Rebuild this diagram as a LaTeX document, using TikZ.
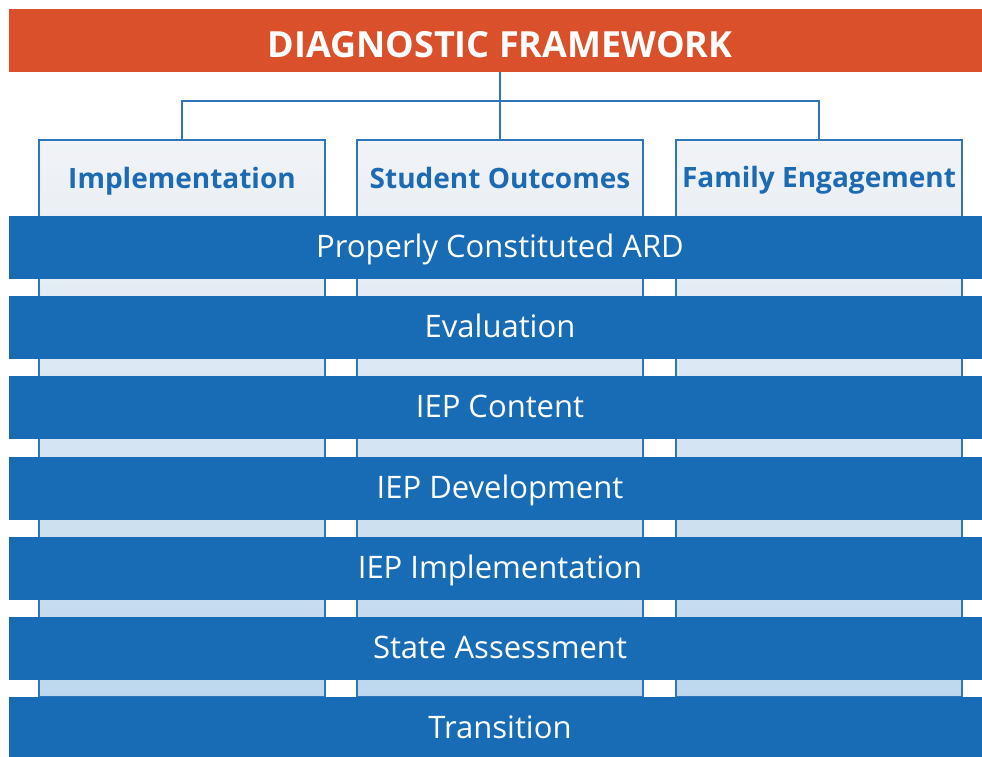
\documentclass[tikz,border=0pt]{standalone}
\usepackage{fontspec}
\setmainfont{Open Sans}
\usetikzlibrary{positioning}

\definecolor{titleorange}{HTML}{D9502A}
\definecolor{barblue}{HTML}{176CB5}
\definecolor{lineblue}{HTML}{2F75BA}
\definecolor{headblue}{HTML}{1B6AB2}
\definecolor{coltop}{HTML}{F1F3F6}
\definecolor{colbottom}{HTML}{BDD8EE}

\tikzset{
	titlebar/.style = {fill = titleorange, text = white, minimum width = 982pt, minimum height = 63pt, inner sep = 0pt, text height = 33pt, text depth = 0pt, font = \bfseries\fontsize{36}{40}\selectfont},
	column/.style = {draw = lineblue, line width = 1.5pt, top color = coltop, bottom color = colbottom, minimum width = 286pt, minimum height = 557pt, inner sep = 0pt},
	header/.style = {text = headblue, anchor = base, font = \bfseries\fontsize{28}{32}\selectfont, inner sep = 0pt},
	bar/.style = {fill = barblue, text = white, minimum width = 982pt, minimum height = 63pt, inner sep = 0pt, text height = 19pt, text depth = 0pt, font = \fontsize{31}{35}\selectfont},
	link/.style = {draw = lineblue, line width = 2pt}
}

\begin{document}
\begin{tikzpicture}[x = 1pt, y = -1pt]

	\useasboundingbox (0, 0) rectangle (982, 756);
	\clip (0, 0) rectangle (982, 756);

	% Title
	
	\node [titlebar] (title) at (500, 40.5) {DIAGNOSTIC FRAMEWORK};
	
	% Columns
	
	\node [column] (col1) at (182, 418.5) {};
	\node [column] (col2) at (500, 418.5) {};
	\node [column] (col3) at (819, 418.5) {};
	
	\node [header] (impl) at (182, 188) {Implementation};
	\node [header] (outcomes) at (500, 188) {Student Outcomes};
	\node [header] (family) at (819, 187) {Family Engagement};
	
	% Links from title to columns
	
	\coordinate (hub) at (500, 101);
	\draw [link] (col2.north |- title.south) -- (col2.north);
	\draw [link] (col1.north) |- (hub) -| (col3.north);
	
	% Bars across the columns
	
	\node [bar] (ard) at (500, 247.5) {Properly Constituted ARD};
	\node [bar] (eval) at (500, 327.5) {Evaluation};
	\node [bar] (content) at (500, 407.5) {IEP Content};
	\node [bar] (develop) at (500, 488.5) {IEP Development};
	\node [bar] (implement) at (500, 568.5) {IEP Implementation};
	\node [bar] (assess) at (500, 648.5) {State Assessment};
	\node [bar] (transition) at (500, 728.5) {Transition};

\end{tikzpicture}
\end{document}
